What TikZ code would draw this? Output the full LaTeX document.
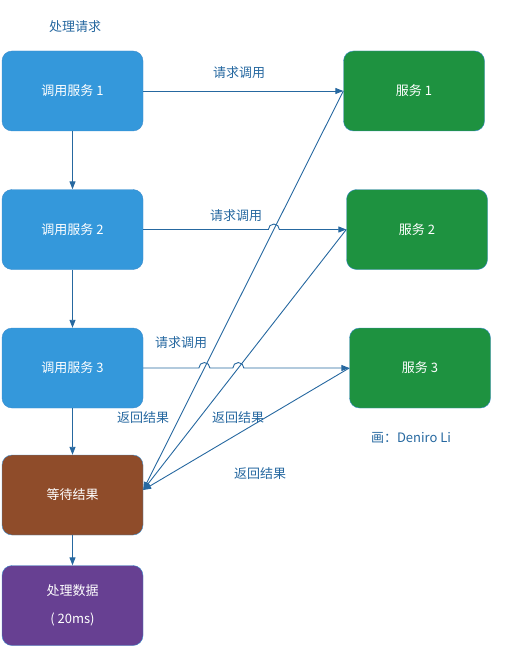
\documentclass[tikz,border=0pt]{standalone}
\usepackage{fontspec}
\setmainfont{Noto Sans CJK SC}
\usetikzlibrary{arrows.meta}

\definecolor{callblue}{RGB}{52,152,219}
\definecolor{svcgreen}{RGB}{30,146,64}
\definecolor{waitbrown}{RGB}{143,76,42}
\definecolor{procpurple}{RGB}{103,64,146}
\definecolor{edgeblue}{RGB}{38,104,160}
\definecolor{frameblue}{RGB}{60,140,205}

\tikzset{
  box/.style={draw=frameblue, rounded corners=10pt, minimum width=141pt, minimum height=80pt,
    text=white, align=center, font=\fontsize{13}{16}\selectfont},
  link/.style={draw=edgeblue, line width=0.9pt, -{Triangle[length=8pt,width=6pt]}},
  lbl/.style={text=edgeblue, font=\fontsize{13}{16}\selectfont}
}

\begin{document}
\begin{tikzpicture}[x=1pt,y=-1pt]
\useasboundingbox (0,0) rectangle (505,647);
\node[lbl] (title) at (75,27) {处理请求};
% caller side
\node[box,fill=callblue] (c1) at (72.5,91) {调用服务 1};
\node[box,fill=callblue] (c2) at (72.5,229.5) {调用服务 2};
\node[box,fill=callblue] (c3) at (72.5,368) {调用服务 3};
\node[box,fill=waitbrown] (wait) at (72.5,495) {等待结果};
\node[box,fill=procpurple] (proc) at (72.5,605.5) {处理数据\\[12pt]( 20ms)};
% services
\node[box,fill=svcgreen] (s1) at (414,91) {服务 1};
\node[box,fill=svcgreen] (s2) at (417,229.5) {服务 2};
\node[box,fill=svcgreen] (s3) at (420,368) {服务 3};
\node[lbl] (credit) at (411,438) {画：Deniro Li};

\draw[link] (c1) -- (c2);
\draw[link] (c2) -- (c3);
\draw[link] (c3) -- (wait);
\draw[link] (wait) -- (proc);

% returns
\coordinate (ret) at ([yshift=5pt]wait.east);
\draw[link] (s1.west) -- (ret);
\draw[link] (s2.west) -- (ret);
\draw[link] (s3.west) -- (ret);

% requests, hopping over the returns
\coordinate (j1) at (intersection of s1.west--ret and c2.east--s2.west);
\coordinate (j2) at (intersection of s1.west--ret and c3.east--s3.west);
\coordinate (j3) at (intersection of s2.west--ret and c3.east--s3.west);
\draw[link] (c1.east) -- (s1.west);
\draw[link] (c2.east) -- ([xshift=-5.5pt]j1) arc[start angle=180,end angle=0,radius=5.5pt] -- (s2.west);
\draw[link] (c3.east) -- ([xshift=-5.5pt]j2) arc[start angle=180,end angle=0,radius=5.5pt]
  -- ([xshift=-5.5pt]j3) arc[start angle=180,end angle=0,radius=5.5pt] -- (s3.west);

\node[lbl] (req1) at (239,73) {请求调用};
\node[lbl] (req2) at (236,216) {请求调用};
\node[lbl] (req3) at (181,343) {请求调用};
\node[lbl] (back1) at (143,418) {返回结果};
\node[lbl] (back2) at (238,418) {返回结果};
\node[lbl] (back3) at (260,474) {返回结果};
\end{tikzpicture}
\end{document}
